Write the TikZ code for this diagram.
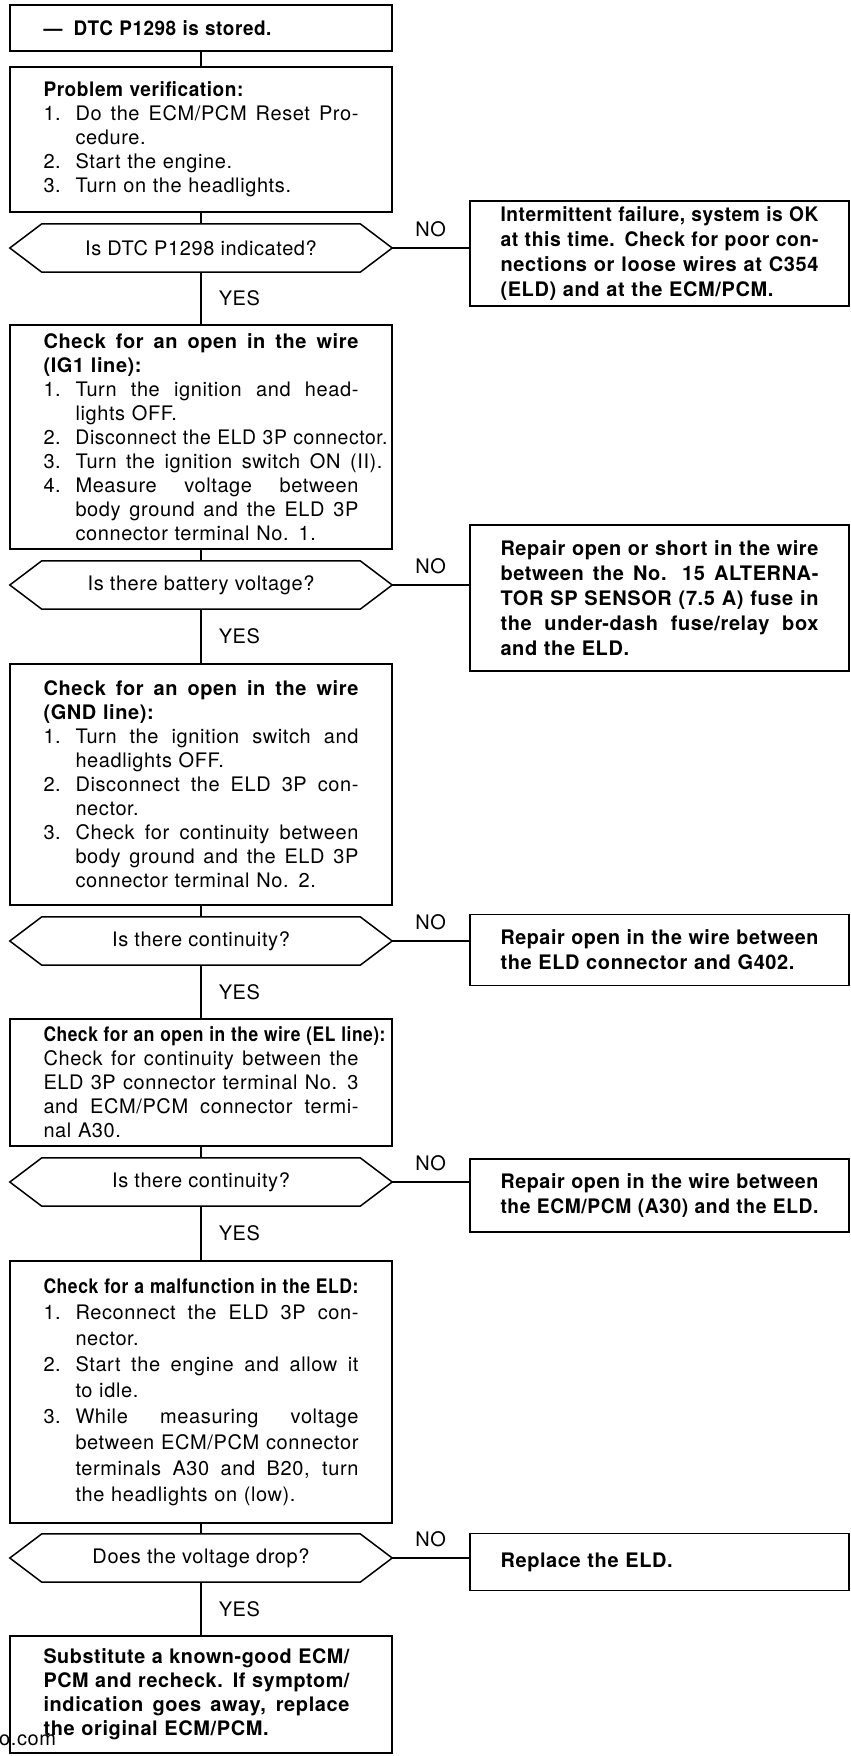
\documentclass[tikz,border=0pt]{standalone}
\usepackage{fontspec}
\setmainfont{TeX Gyre Heros}[LetterSpace=3]
\usepackage{graphicx}
\newsavebox\fitbox
\newlength\fitw
\newlength\colw
\newlength\itemw
\setlength\colw{315pt}
\setlength\itemw{32pt}
\newcommand\fitJ[2]{\setlength\fitw{#1}\sbox\fitbox{\spaceskip=.3333em plus .5em minus .05em\relax #2}\ifdim\wd\fitbox>\fitw\pgfmathsetmacro\fitr{\the\fitw/\the\wd\fitbox}\scalebox{\fitr}[1]{\usebox\fitbox}\else\makebox[\fitw][s]{\spaceskip=.3333em plus 1fil minus .05em\xspaceskip=0pt\relax #2}\fi}
\newcommand\fitN[2]{\setlength\fitw{#1}\sbox\fitbox{#2}\ifdim\wd\fitbox>\fitw\pgfmathsetmacro\fitr{\the\fitw/\the\wd\fitbox}\scalebox{\fitr}[1]{\usebox\fitbox}\else\usebox\fitbox\fi}
\newcommand\rowJ[1]{\noindent\fitJ{\colw}{#1}\par}
\newcommand\rowN[1]{\noindent\fitN{\colw}{#1}\par}
\newcommand\itmJ[2]{\noindent\makebox[\itemw][l]{#1}\fitJ{\dimexpr\colw-\itemw\relax}{#2}\par}
\newcommand\itmN[2]{\noindent\makebox[\itemw][l]{#1}\fitN{\dimexpr\colw-\itemw\relax}{#2}\par}
\newcommand\hexdec[1]{\draw[ln] (#1.west) -- ([xshift=32pt]#1.north west) -- ([xshift=-32pt]#1.north east) -- (#1.east) -- ([xshift=-32pt]#1.south east) -- ([xshift=32pt]#1.south west) -- cycle;}
\tikzset{
  ln/.style={line width=1.5pt},
  lbox/.style={draw, line width=1.5pt, minimum width=382pt, inner sep=0pt, text width=315pt, align=left, font=\fontsize{20}{24}\selectfont},
  rbox/.style={draw, line width=1.5pt, minimum width=379pt, inner sep=0pt, text width=318pt, align=left, font=\fontsize{20}{25}\selectfont\bfseries},
  dec/.style={minimum width=382pt, minimum height=48pt, inner sep=0pt, font=\fontsize{20}{24}\selectfont},
  lab/.style={inner sep=0pt, font=\fontsize{20}{24}\selectfont},
}
\begin{document}
\begin{tikzpicture}[x=1pt,y=-1pt]
\fill[white] (0,0) rectangle (851,1756);
\useasboundingbox (0,0) rectangle (851,1756);

% left column
\node[lbox, minimum height=46pt] (top) at (201,28) {\noindent\fitN{228pt}{\bfseries —\hspace{0.6em}DTC P1298 is stored.}\par};

\node[lbox, minimum height=145pt] (pv) at (201,139.5) {%
\noindent\fitN{200pt}{\bfseries Problem verification:}\par
\itmJ{1.}{Do the ECM/PCM Reset Pro-}
\itmN{}{cedure.}
\itmN{2.}{Start the engine.}
\itmN{3.}{Turn on the headlights.}};

\node[dec] (d1) at (201,248) {Is DTC P1298 indicated?};
\hexdec{d1}

\node[lbox, minimum height=224pt] (ig) at (201,437) {%
\rowJ{\bfseries Check for an open in the wire}
\rowN{\bfseries (IG1 line):}
\itmJ{1.}{Turn the ignition and head-}
\itmN{}{lights OFF.}
\noindent\makebox[\itemw][l]{2.}\fitJ{312pt}{Disconnect the ELD 3P connector.}\par
\noindent\makebox[\itemw][l]{3.}\fitJ{307pt}{Turn the ignition switch ON (II).}\par
\itmJ{4.}{Measure voltage between}
\itmJ{}{body ground and the ELD 3P}
\itmN{}{connector terminal No. 1.}};

\node[dec] (d2) at (201,585) {Is there battery voltage?};
\hexdec{d2}

\node[lbox, minimum height=241pt] (gnd) at (201,784.5) {%
\rowJ{\bfseries Check for an open in the wire}
\rowN{\bfseries (GND line):}
\itmJ{1.}{Turn the ignition switch and}
\itmN{}{headlights OFF.}
\itmJ{2.}{Disconnect the ELD 3P con-}
\itmN{}{nector.}
\itmJ{3.}{Check for continuity between}
\itmJ{}{body ground and the ELD 3P}
\itmN{}{connector terminal No. 2.}};

\node[dec] (d3) at (201,941) {Is there continuity?};
\hexdec{d3}

\node[lbox, minimum height=127pt] (el) at (201,1082.5) {%
\noindent\fitJ{342pt}{\bfseries Check for an open in the wire (EL line):}\par
\rowJ{Check for continuity between the}
\rowJ{ELD 3P connector terminal No. 3}
\rowJ{and ECM/PCM connector termi-}
\rowN{nal A30.}};

\node[dec] (d4) at (201,1182) {Is there continuity?};
\hexdec{d4}

\node[lbox, minimum height=262pt, font=\fontsize{20}{26}\selectfont] (eld) at (201,1392) {%
\rowJ{\bfseries Check for a malfunction in the ELD:}
\itmJ{1.}{Reconnect the ELD 3P con-}
\itmN{}{nector.}
\itmJ{2.}{Start the engine and allow it}
\itmN{}{to idle.}
\itmJ{3.}{While measuring voltage}
\itmJ{}{between ECM/PCM connector}
\itmJ{}{terminals A30 and B20, turn}
\itmN{}{the headlights on (low).}};

\node[dec] (d5) at (201,1558) {Does the voltage drop?};
\hexdec{d5}

\node[lbox, minimum height=117pt, font=\fontsize{20}{24}\selectfont\bfseries] (fin) at (201,1694.5) {%
\setlength\colw{306pt}%
\rowJ{Substitute a known-good ECM/}
\rowJ{PCM and recheck. If symptom/}
\rowJ{indication goes away, replace}
\rowN{the original ECM/PCM.}};

\node[lab, anchor=base west] (wm) at (-1,1745) {o.com};

% right column
\node[rbox, minimum height=105pt] (r1) at (659.5,253.5) {%
\setlength\colw{318pt}%
\rowJ{Intermittent failure, system is OK}
\rowJ{at this time. Check for poor con-}
\rowJ{nections or loose wires at C354}
\rowN{(ELD) and at the ECM/PCM.}};

\node[rbox, minimum height=146pt] (r2) at (659.5,598) {%
\setlength\colw{318pt}%
\rowJ{Repair open or short in the wire}
\rowJ{between the No. 15 ALTERNA-}
\rowJ{TOR SP SENSOR (7.5 A) fuse in}
\rowJ{the under-dash fuse/relay box}
\rowN{and the ELD.}};

\node[rbox, minimum height=71pt] (r3) at (659.5,950) {%
\setlength\colw{318pt}%
\rowJ{Repair open in the wire between}
\rowN{the ELD connector and G402.}};

\node[rbox, minimum height=73pt] (r4) at (659.5,1195.5) {%
\setlength\colw{318pt}%
\rowJ{Repair open in the wire between}
\rowN{the ECM/PCM (A30) and the ELD.}};

\node[rbox, minimum height=57pt] (r5) at (659.5,1562) {%
\setlength\colw{318pt}%
\rowN{Replace the ELD.}};

% vertical connectors
\draw[ln] (top.south) -- (pv.north);
\draw[ln] (pv.south) -- (d1.north);
\draw[ln] (d1.south) -- node[lab, right=17pt]{YES} (ig.north);
\draw[ln] (ig.south) -- (d2.north);
\draw[ln] (d2.south) -- node[lab, right=17pt]{YES} (gnd.north);
\draw[ln] (gnd.south) -- (d3.north);
\draw[ln] (d3.south) -- node[lab, right=17pt]{YES} (el.north);
\draw[ln] (el.south) -- (d4.north);
\draw[ln] (d4.south) -- node[lab, right=17pt]{YES} (eld.north);
\draw[ln] (eld.south) -- (d5.north);
\draw[ln] (d5.south) -- node[lab, right=17pt]{YES} (fin.north);

% NO branches
\draw[ln] (d1.east) -- node[lab, above=10pt]{NO} (d1.east -| r1.west);
\draw[ln] (d2.east) -- node[lab, above=10pt]{NO} (d2.east -| r2.west);
\draw[ln] (d3.east) -- node[lab, above=10pt]{NO} (d3.east -| r3.west);
\draw[ln] (d4.east) -- node[lab, above=10pt]{NO} (d4.east -| r4.west);
\draw[ln] (d5.east) -- node[lab, above=10pt]{NO} (d5.east -| r5.west);
\end{tikzpicture}
\end{document}
